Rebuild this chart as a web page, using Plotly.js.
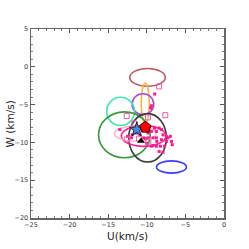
<!DOCTYPE html>
<html><head><meta charset="utf-8">
<script src="https://cdn.plot.ly/plotly-3.0.1.min.js"></script>
<style>html,body{margin:0;padding:0;background:#fff}#c{width:249px;height:249px}</style>
</head><body><div id="c"></div>
<script>
// Ellipses (axis-aligned): centre U, centre W, semi-axis in U, semi-axis in W, colour
const ellU  = [-9.9, -10.2, -10.5, -13.4, -12.9, -9.9, -6.8, -10.4, -11.5];
const ellW  = [-1.4, -4.85, -4.95, -5.9, -9.0, -9.4, -13.25, -9.15, -8.85];
const ellAU = [2.3, 0.52, 1.4, 1.8, 3.35, 2.44, 1.94, 2.9, 2.7];
const ellAW = [1.17, 2.7, 1.39, 1.87, 3.04, 3.2, 0.81, 1.37, 1.0];
const ellColor = ['#bc5a5a', '#ffb23c', '#a64ae0', '#3ee8a8', '#3a9a3a', '#3a3a3a', '#3c3cff', '#ff1f99', '#ffb6cc'];

// Small filled members
const memU = [-8.98, -9.4, -9.5, -13.5, -12.5, -12.0, -9.0, -8.4, -8.1, -8.76, -7.9, -7.46, -7.25, -6.95, -6.8, -6.7, -7.46, -7.7, -8.24, -8.76, -9.2, -9.4, -8.4, -7.9, -9.2, -9.84, -10.2, -10.4, -10.9, -11.35, -11.9, -9.84, -9.4, -8.76, -8.1, -10.05, -8.7];
const memW = [-3.6, -5.15, -5.45, -8.3, -9.2, -9.4, -8.1, -8.1, -8.3, -8.55, -9.0, -9.2, -9.4, -9.2, -9.87, -10.3, -9.87, -10.5, -10.5, -10.5, -10.4, -10.5, -11.2, -11.3, -9.4, -9.4, -9.5, -9.4, -9.0, -8.76, -9.0, -8.76, -8.55, -9.4, -9.65, -10.1, -9.87];

// Open squares
const sqU = [-8.4, -7.6, -12.6, -9.85, -11.6, -12.6, -11.0, -9.8];
const sqW = [-2.6, -6.4, -6.5, -6.7, -7.5, -9.6, -9.5, -9.9];

// Special markers
const pentU = [-10.2], pentW = [-8.0];
const starU = [-11.3], starW = [-8.3];
const triU = [-10.75], triW = [-9.8];

const xTicks = [-25, -20, -15, -10, -5, 0];
const yTicks = [-20, -15, -10, -5, 0, 5];
const xTitle = 'U(km/s)', yTitle = 'W (km/s)';
const fmt = v => (v < 0 ? '\u2212' + Math.abs(v) : String(v));

const shapes = ellU.map((u, i) => ({
  type: 'circle', xref: 'x', yref: 'y', layer: 'below',
  x0: u - ellAU[i], x1: u + ellAU[i], y0: ellW[i] - ellAW[i], y1: ellW[i] + ellAW[i],
  line: {color: ellColor[i], width: 1.6}
}));

const traces = [
  {x: memU, y: memW, mode: 'markers', type: 'scatter', hoverinfo: 'skip',
   marker: {symbol: 'square', size: 3, color: '#ff1a8c', line: {width: 0}}},
  {x: sqU, y: sqW, mode: 'markers', type: 'scatter',
   marker: {symbol: 'square-open', size: 5, color: '#ee5aa8', line: {width: 1}}},
  {x: triU, y: triW, mode: 'markers', type: 'scatter',
   marker: {symbol: 'triangle-up', size: 7, color: '#000'}},
  {x: starU, y: starW, mode: 'markers', type: 'scatter',
   marker: {symbol: 'star', size: 11, color: '#3a8ee6', line: {color: '#000', width: 0.8}}},
  {x: pentU, y: pentW, mode: 'markers', type: 'scatter',
   marker: {symbol: 'pentagon', size: 12, color: '#ff0000', line: {color: '#000', width: 0.8}}}
];

const axBase = {
  showgrid: false, zeroline: false, showline: true, mirror: 'ticks',
  linecolor: '#666', linewidth: 1.5, ticks: 'inside', ticklen: 4, tickwidth: 1,
  tickcolor: '#555', tickfont: {family: 'DejaVu Sans, sans-serif', size: 6.5, color: '#333'},
  minor: {ticks: 'inside', ticklen: 2, tickcolor: '#777', dtick: 1}
};
const titleFont = {family: 'DejaVu Sans, sans-serif', size: 10.5, color: '#222'};

const layout = {
  width: 249, height: 249,
  margin: {l: 31, r: 25, t: 29, b: 31},
  paper_bgcolor: '#fff', plot_bgcolor: '#fff', showlegend: false,
  shapes: shapes,
  xaxis: Object.assign({}, axBase, {
    range: [-25, 0], tickmode: 'array', tickvals: xTicks, ticktext: xTicks.map(fmt)
  }),
  yaxis: Object.assign({}, axBase, {
    range: [-20, 5], tickmode: 'array', tickvals: yTicks, ticktext: yTicks.map(fmt)
  }),
  annotations: [
    {text: xTitle, xref: 'paper', yref: 'paper', x: 0.5, y: -0.056, xanchor: 'center', yanchor: 'top',
     borderpad: 0, showarrow: false, font: titleFont},
    {text: yTitle, xref: 'paper', yref: 'paper', x: -0.109, y: 0.5, xanchor: 'center', yanchor: 'middle',
     textangle: -90, showarrow: false, font: titleFont}
  ]
};

Plotly.newPlot('c', traces, layout, {displayModeBar: false, staticPlot: true});
</script></body></html>
